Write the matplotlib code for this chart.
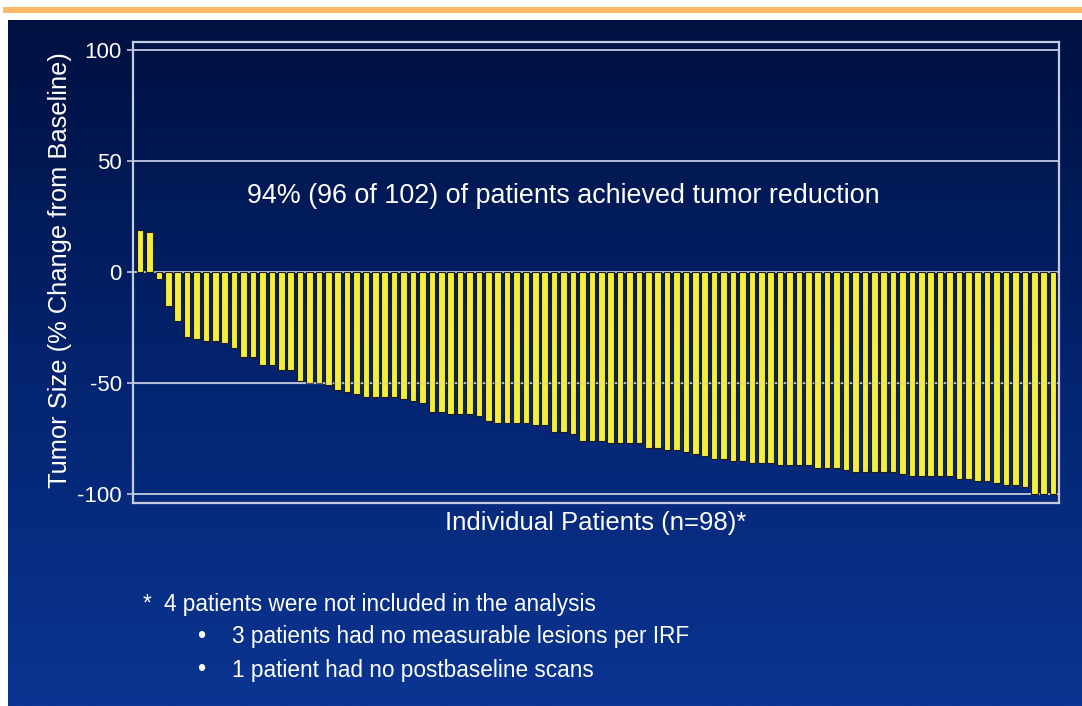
import numpy as np
import matplotlib.pyplot as plt
from matplotlib.colors import LinearSegmentedColormap
from matplotlib.patches import Rectangle

# tumour size change per patient, sorted (percent)
change = [19, 18, -3, -15, -22, -29, -30, -31, -31, -32,
          -34, -38, -38, -42, -42, -44, -44, -49, -50, -50,
          -51, -53, -54, -55, -56, -56, -56, -56, -57, -58,
          -59, -63, -63, -64, -64, -64, -65, -67, -68, -68,
          -68, -68, -69, -69, -72, -72, -73, -76, -76, -76,
          -77, -77, -77, -77, -79, -79, -80, -80, -81, -82,
          -83, -84, -84, -85, -85, -86, -86, -86, -87, -87,
          -87, -87, -88, -88, -88, -89, -90, -90, -90, -90,
          -90, -91, -92, -92, -92, -92, -92, -93, -93, -94,
          -94, -95, -96, -96, -97, -100, -100, -100]
yticks = [100, 50, 0, -50, -100]
ylabel = "Tumor Size (% Change from Baseline)"
xlabel = "Individual Patients (n=98)*"
note = "94% (96 of 102) of patients achieved tumor reduction"
footnotes = ["4 patients were not included in the analysis",
             "3 patients had no measurable lesions per IRF",
             "1 patient had no postbaseline scans"]

W, H = 1082, 706
plt.rcParams['font.family'] = ['Liberation Sans', 'DejaVu Sans']
fig = plt.figure(figsize=(W / 100, H / 100), dpi=100)
fig.patch.set_facecolor("white")

def fx(px):
    return px / W

def fy(py):
    return 1 - py / H

# slide background with vertical gradient
bg = fig.add_axes([fx(8), 0, 1 - fx(8), fy(20)])
cmap = LinearSegmentedColormap.from_list("slide", ["#0a3592", "#03236e", "#001040"])
grad = np.linspace(0, 1, 256).reshape(-1, 1)
bg.imshow(grad, aspect="auto", cmap=cmap, extent=[0, 1, 0, 1], origin="lower")
bg.axis("off")

# orange rule at the top
fig.add_artist(Rectangle((fx(3), fy(13)), 1, 6 / H, transform=fig.transFigure,
                         color="#ffb866", lw=0))

line_col = "#c3cbe0"
ax = fig.add_axes([fx(133), fy(503), fx(1058.5) - fx(133), fy(41.5) - fy(503)])
ax.set_facecolor("none")
x = np.arange(len(change))
ax.bar(x, change, width=0.7, color="#f5ee3a", edgecolor="#1c1c1c", linewidth=0.8, zorder=3)
ax.set_xlim(-0.75, len(change) - 0.42)
ax.set_ylim(-104, 104)
ax.set_yticks(yticks)
ax.set_yticklabels([str(v) for v in yticks])
ax.set_xticks([])
for v in yticks:
    ax.axhline(v, color=line_col, lw=1.3, zorder=2)
# faint line through the bars at -50, as on the slide
ax.axhline(-50, color=line_col, lw=1.0, alpha=0.35, zorder=4)
for s in ax.spines.values():
    s.set_color(line_col)
    s.set_linewidth(1.6)
ax.tick_params(axis="y", colors=line_col, length=4.5, width=1.2, pad=3.5,
               labelsize=16, labelcolor="white")

fig.text(fx(60), fy(270), ylabel, rotation=90, ha="center", va="center",
         color="white", fontsize=18.4)
fig.text(fx(596), fy(523), xlabel, ha="center", va="center", color="white", fontsize=18.5)
fig.text(fx(563), fy(196), note, ha="center", va="center", color="white", fontsize=19.4)

fig.text(fx(143), fy(604), "*", ha="left", va="center", color="white", fontsize=16.3)
fig.text(fx(164), fy(604), footnotes[0], ha="left", va="center", color="white", fontsize=16.3)
for i, t in enumerate(footnotes[1:]):
    yy = 637 + 33 * i
    fig.text(fx(197), fy(yy), "\u2022", ha="left", va="center", color="white", fontsize=17)
    fig.text(fx(232), fy(yy), t, ha="left", va="center", color="white", fontsize=16.3)

plt.savefig("out.png", dpi=100)
plt.close()
